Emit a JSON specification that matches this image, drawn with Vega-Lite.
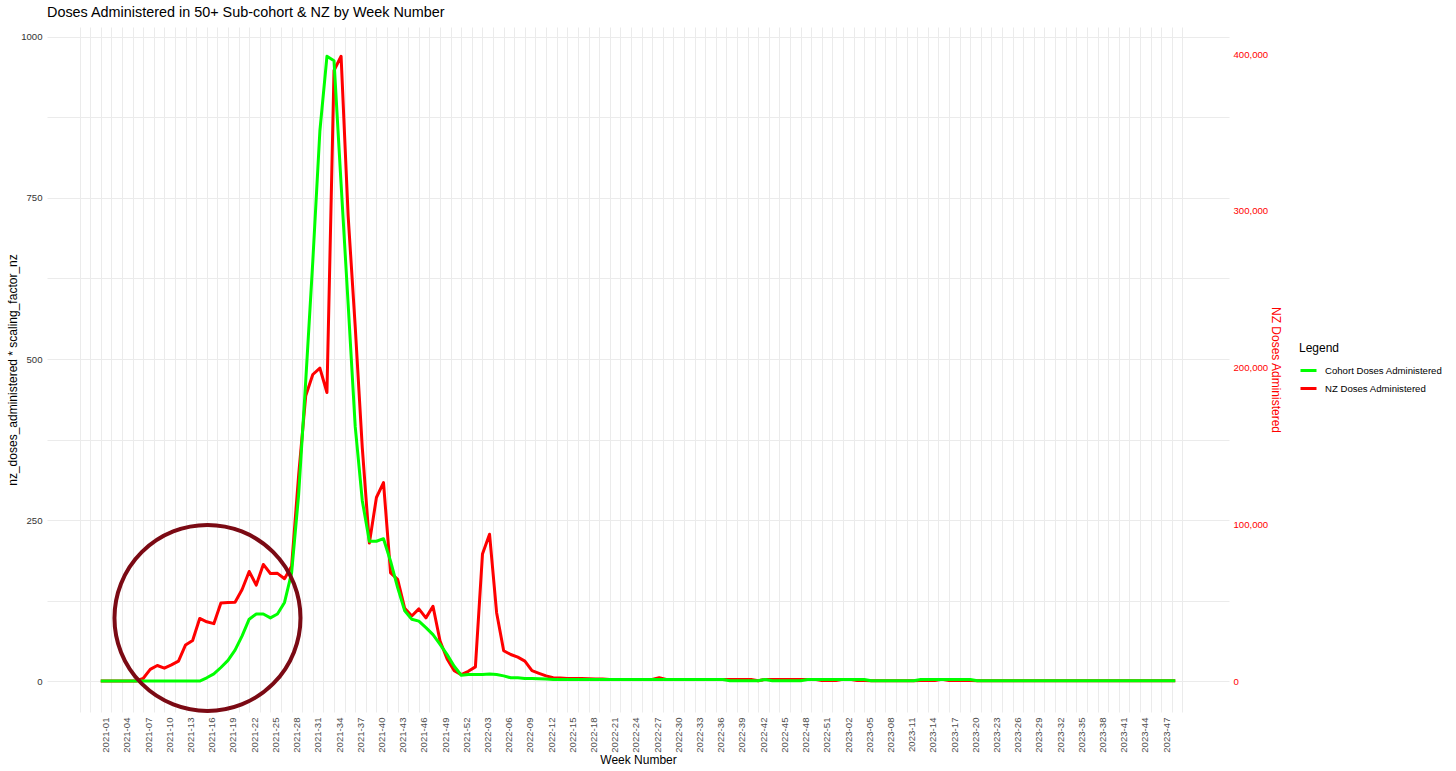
{
  "$schema": "https://vega.github.io/schema/vega-lite/v6.json",
  "width": 1182,
  "height": 685,
  "padding": {"left": 6, "top": 4, "right": 5, "bottom": 5},
  "background": "white",
  "title": {"text": "Doses Administered in 50+ Sub-cohort & NZ by Week Number", "anchor": "start", "frame": "group", "font": "Liberation Sans", "fontSize": 14.4, "fontWeight": "normal", "color": "#000000", "offset": 7},
  "config": {"view": {"stroke": null}, "font": "Liberation Sans"},
  "data": {"values": [
    {"week":"2021-01","idx":0,"cohort":0,"nz":0},
    {"week":"2021-02","idx":1,"cohort":0,"nz":0},
    {"week":"2021-03","idx":2,"cohort":0,"nz":0},
    {"week":"2021-04","idx":3,"cohort":0,"nz":0},
    {"week":"2021-05","idx":4,"cohort":0,"nz":0},
    {"week":"2021-06","idx":5,"cohort":0,"nz":0},
    {"week":"2021-07","idx":6,"cohort":0,"nz":1600},
    {"week":"2021-08","idx":7,"cohort":0,"nz":7400},
    {"week":"2021-09","idx":8,"cohort":0,"nz":9900},
    {"week":"2021-10","idx":9,"cohort":0,"nz":8200},
    {"week":"2021-11","idx":10,"cohort":0,"nz":10300},
    {"week":"2021-12","idx":11,"cohort":0,"nz":12700},
    {"week":"2021-13","idx":12,"cohort":0,"nz":23000},
    {"week":"2021-14","idx":13,"cohort":0,"nz":25900},
    {"week":"2021-15","idx":14,"cohort":0,"nz":39900},
    {"week":"2021-16","idx":15,"cohort":5,"nz":37800},
    {"week":"2021-17","idx":16,"cohort":11,"nz":36600},
    {"week":"2021-18","idx":17,"cohort":21,"nz":49800},
    {"week":"2021-19","idx":18,"cohort":32,"nz":50100},
    {"week":"2021-20","idx":19,"cohort":48,"nz":50200},
    {"week":"2021-21","idx":20,"cohort":70,"nz":58400},
    {"week":"2021-22","idx":21,"cohort":96,"nz":69900},
    {"week":"2021-23","idx":22,"cohort":104,"nz":61200},
    {"week":"2021-24","idx":23,"cohort":104,"nz":74400},
    {"week":"2021-25","idx":24,"cohort":98,"nz":68600},
    {"week":"2021-26","idx":25,"cohort":104,"nz":68700},
    {"week":"2021-27","idx":26,"cohort":122,"nz":65300},
    {"week":"2021-28","idx":27,"cohort":168,"nz":73200},
    {"week":"2021-29","idx":28,"cohort":290,"nz":131500},
    {"week":"2021-30","idx":29,"cohort":466,"nz":182100},
    {"week":"2021-31","idx":30,"cohort":652,"nz":195600},
    {"week":"2021-32","idx":31,"cohort":854,"nz":199700},
    {"week":"2021-33","idx":32,"cohort":970,"nz":184100},
    {"week":"2021-34","idx":33,"cohort":963,"nz":389600},
    {"week":"2021-35","idx":34,"cohort":772,"nz":398700},
    {"week":"2021-36","idx":35,"cohort":585,"nz":296700},
    {"week":"2021-37","idx":36,"cohort":395,"nz":226100},
    {"week":"2021-38","idx":37,"cohort":280,"nz":148800},
    {"week":"2021-39","idx":38,"cohort":217,"nz":88000},
    {"week":"2021-40","idx":39,"cohort":217,"nz":117100},
    {"week":"2021-41","idx":40,"cohort":221,"nz":126600},
    {"week":"2021-42","idx":41,"cohort":186,"nz":69000},
    {"week":"2021-43","idx":42,"cohort":145,"nz":64900},
    {"week":"2021-44","idx":43,"cohort":109,"nz":46400},
    {"week":"2021-45","idx":44,"cohort":96,"nz":41500},
    {"week":"2021-46","idx":45,"cohort":93,"nz":46000},
    {"week":"2021-47","idx":46,"cohort":83,"nz":40300},
    {"week":"2021-48","idx":47,"cohort":72,"nz":47700},
    {"week":"2021-49","idx":48,"cohort":57,"nz":25500},
    {"week":"2021-50","idx":49,"cohort":41,"nz":14000},
    {"week":"2021-51","idx":50,"cohort":23,"nz":6600},
    {"week":"2021-52","idx":51,"cohort":9,"nz":4100},
    {"week":"2022-01","idx":52,"cohort":10,"nz":6200},
    {"week":"2022-02","idx":53,"cohort":10,"nz":9000},
    {"week":"2022-03","idx":54,"cohort":10,"nz":81000},
    {"week":"2022-04","idx":55,"cohort":11,"nz":93700},
    {"week":"2022-05","idx":56,"cohort":10,"nz":43600},
    {"week":"2022-06","idx":57,"cohort":8,"nz":19300},
    {"week":"2022-07","idx":58,"cohort":5,"nz":16900},
    {"week":"2022-08","idx":59,"cohort":5,"nz":15200},
    {"week":"2022-09","idx":60,"cohort":4,"nz":12700},
    {"week":"2022-10","idx":61,"cohort":4,"nz":6600},
    {"week":"2022-11","idx":62,"cohort":3.5,"nz":4900},
    {"week":"2022-12","idx":63,"cohort":3,"nz":3300},
    {"week":"2022-13","idx":64,"cohort":2.5,"nz":2100},
    {"week":"2022-14","idx":65,"cohort":2.5,"nz":1850},
    {"week":"2022-15","idx":66,"cohort":2.5,"nz":1650},
    {"week":"2022-16","idx":67,"cohort":2.5,"nz":1650},
    {"week":"2022-17","idx":68,"cohort":2.5,"nz":1650},
    {"week":"2022-18","idx":69,"cohort":2.5,"nz":1450},
    {"week":"2022-19","idx":70,"cohort":2.5,"nz":1250},
    {"week":"2022-20","idx":71,"cohort":2.5,"nz":1250},
    {"week":"2022-21","idx":72,"cohort":2.5,"nz":1030},
    {"week":"2022-22","idx":73,"cohort":2.5,"nz":1030},
    {"week":"2022-23","idx":74,"cohort":2.5,"nz":1030},
    {"week":"2022-24","idx":75,"cohort":2.5,"nz":1030},
    {"week":"2022-25","idx":76,"cohort":2.5,"nz":1030},
    {"week":"2022-26","idx":77,"cohort":2.5,"nz":1030},
    {"week":"2022-27","idx":78,"cohort":2.5,"nz":1030},
    {"week":"2022-28","idx":79,"cohort":2.5,"nz":2050},
    {"week":"2022-29","idx":80,"cohort":2.5,"nz":1030},
    {"week":"2022-30","idx":81,"cohort":2.5,"nz":1030},
    {"week":"2022-31","idx":82,"cohort":2.5,"nz":1030},
    {"week":"2022-32","idx":83,"cohort":2.5,"nz":1030},
    {"week":"2022-33","idx":84,"cohort":2.5,"nz":1030},
    {"week":"2022-34","idx":85,"cohort":2.5,"nz":1030},
    {"week":"2022-35","idx":86,"cohort":2.5,"nz":1030},
    {"week":"2022-36","idx":87,"cohort":2.5,"nz":1030},
    {"week":"2022-37","idx":88,"cohort":2.5,"nz":1030},
    {"week":"2022-38","idx":89,"cohort":0.5,"nz":1030},
    {"week":"2022-39","idx":90,"cohort":0.5,"nz":1030},
    {"week":"2022-40","idx":91,"cohort":0.5,"nz":1030},
    {"week":"2022-41","idx":92,"cohort":0.5,"nz":1030},
    {"week":"2022-42","idx":93,"cohort":0.5,"nz":205},
    {"week":"2022-43","idx":94,"cohort":2.5,"nz":1030},
    {"week":"2022-44","idx":95,"cohort":0.5,"nz":1030},
    {"week":"2022-45","idx":96,"cohort":0.5,"nz":1030},
    {"week":"2022-46","idx":97,"cohort":0.5,"nz":1030},
    {"week":"2022-47","idx":98,"cohort":0.5,"nz":1030},
    {"week":"2022-48","idx":99,"cohort":0.5,"nz":1030},
    {"week":"2022-49","idx":100,"cohort":2.5,"nz":1030},
    {"week":"2022-50","idx":101,"cohort":2.5,"nz":1030},
    {"week":"2022-51","idx":102,"cohort":2.5,"nz":330},
    {"week":"2022-52","idx":103,"cohort":2.5,"nz":330},
    {"week":"2023-01","idx":104,"cohort":2.5,"nz":330},
    {"week":"2023-02","idx":105,"cohort":2.5,"nz":1030},
    {"week":"2023-03","idx":106,"cohort":2.5,"nz":1030},
    {"week":"2023-04","idx":107,"cohort":2.5,"nz":330},
    {"week":"2023-05","idx":108,"cohort":2.5,"nz":330},
    {"week":"2023-06","idx":109,"cohort":0.5,"nz":205},
    {"week":"2023-07","idx":110,"cohort":0.5,"nz":205},
    {"week":"2023-08","idx":111,"cohort":0.5,"nz":205},
    {"week":"2023-09","idx":112,"cohort":0.5,"nz":205},
    {"week":"2023-10","idx":113,"cohort":0.5,"nz":205},
    {"week":"2023-11","idx":114,"cohort":0.5,"nz":205},
    {"week":"2023-12","idx":115,"cohort":0.5,"nz":205},
    {"week":"2023-13","idx":116,"cohort":2.5,"nz":330},
    {"week":"2023-14","idx":117,"cohort":2.5,"nz":330},
    {"week":"2023-15","idx":118,"cohort":2.5,"nz":330},
    {"week":"2023-16","idx":119,"cohort":2.5,"nz":1030},
    {"week":"2023-17","idx":120,"cohort":2.5,"nz":330},
    {"week":"2023-18","idx":121,"cohort":2.5,"nz":330},
    {"week":"2023-19","idx":122,"cohort":2.5,"nz":330},
    {"week":"2023-20","idx":123,"cohort":2.5,"nz":330},
    {"week":"2023-21","idx":124,"cohort":0.5,"nz":205},
    {"week":"2023-22","idx":125,"cohort":0.5,"nz":205},
    {"week":"2023-23","idx":126,"cohort":0.5,"nz":205},
    {"week":"2023-24","idx":127,"cohort":0.5,"nz":205},
    {"week":"2023-25","idx":128,"cohort":0.5,"nz":205},
    {"week":"2023-26","idx":129,"cohort":0.5,"nz":205},
    {"week":"2023-27","idx":130,"cohort":0.5,"nz":205},
    {"week":"2023-28","idx":131,"cohort":0.5,"nz":205},
    {"week":"2023-29","idx":132,"cohort":0.5,"nz":205},
    {"week":"2023-30","idx":133,"cohort":0.5,"nz":205},
    {"week":"2023-31","idx":134,"cohort":0.5,"nz":205},
    {"week":"2023-32","idx":135,"cohort":0.5,"nz":205},
    {"week":"2023-33","idx":136,"cohort":0.5,"nz":205},
    {"week":"2023-34","idx":137,"cohort":0.5,"nz":205},
    {"week":"2023-35","idx":138,"cohort":0.5,"nz":205},
    {"week":"2023-36","idx":139,"cohort":0.5,"nz":205},
    {"week":"2023-37","idx":140,"cohort":0.5,"nz":205},
    {"week":"2023-38","idx":141,"cohort":0.5,"nz":205},
    {"week":"2023-39","idx":142,"cohort":0.5,"nz":205},
    {"week":"2023-40","idx":143,"cohort":0.5,"nz":205},
    {"week":"2023-41","idx":144,"cohort":0.5,"nz":205},
    {"week":"2023-42","idx":145,"cohort":0.5,"nz":205},
    {"week":"2023-43","idx":146,"cohort":0.5,"nz":205},
    {"week":"2023-44","idx":147,"cohort":0.5,"nz":205},
    {"week":"2023-45","idx":148,"cohort":0.5,"nz":205},
    {"week":"2023-46","idx":149,"cohort":0.5,"nz":205},
    {"week":"2023-47","idx":150,"cohort":0.5,"nz":205},
    {"week":"2023-48","idx":151,"cohort":0.5,"nz":205},
    {"week":"2023-49","idx":152,"cohort":0.5,"nz":205}
  ]},
  "layer": [
    {
      "mark": {"type": "line", "strokeWidth": 3, "strokeJoin": "round", "strokeCap": "butt"},
      "encoding": {
        "x": {"field": "idx", "type": "quantitative", "scale": {"domain": [-7.6, 159.6], "nice": false, "zero": false},
          "axis": {"orient": "top", "values": [-3,-1.5,1.5,4.5,7.5,10.5,13.5,16.5,19.5,22.5,25.5,28.5,31.5,34.5,37.5,40.5,43.5,46.5,49.5,52.5,55.5,58.5,61.5,64.5,67.5,70.5,73.5,76.5,79.5,82.5,85.5,88.5,91.5,94.5,97.5,100.5,103.5,106.5,109.5,112.5,115.5,118.5,121.5,124.5,127.5,130.5,133.5,136.5,139.5,142.5,145.5,148.5,151.5,153],
            "grid": true, "gridColor": "#EBEBEB", "gridWidth": 1, "labels": false, "ticks": false, "domain": false, "title": null}},
        "y": {"field": "nz", "type": "quantitative", "scale": {"domain": [-19784, 417383], "nice": false, "zero": false},
          "axis": {"orient": "right", "values": [0, 100000, 200000, 300000, 400000], "format": ",.0f", "labelColor": "#FF0000", "labelFont": "Liberation Sans", "labelFontSize": 9.6, "labelPadding": 4, "ticks": false, "tickSize": 0, "domain": false, "grid": false,
            "title": "NZ Doses Administered", "titleColor": "#FF0000", "titleFont": "Liberation Sans", "titleFontSize": 12, "titleFontWeight": "normal", "titlePadding": 1}},
        "color": {"datum": "NZ Doses Administered", "type": "nominal",
          "scale": {"domain": ["Cohort Doses Administered", "NZ Doses Administered"], "range": ["#00FF00", "#FF0000"]},
          "legend": {"title": "Legend", "orient": "none", "legendX": 1252, "legendY": 316, "titleFont": "Liberation Sans", "titleFontSize": 12, "titleFontWeight": "normal", "titleColor": "#000000", "titlePadding": 6,
            "labelFont": "Liberation Sans", "labelFontSize": 9.6, "labelColor": "#000000", "labelOffset": 7, "symbolType": "stroke", "symbolSize": 256, "symbolStrokeWidth": 3, "rowPadding": 2}}
      }
    },
    {
      "layer": [
        {
          "mark": {"type": "line", "strokeWidth": 3, "strokeJoin": "round", "strokeCap": "butt"},
          "encoding": {
            "x": {"field": "idx", "type": "quantitative", "scale": {"domain": [-7.6, 159.6], "nice": false, "zero": false},
              "axis": {"orient": "bottom", "values": [0,3,6,9,12,15,18,21,24,27,30,33,36,39,42,45,48,51,54,57,60,63,66,69,72,75,78,81,84,87,90,93,96,99,102,105,108,111,114,117,120,123,126,129,132,135,138,141,144,147,150],
                "labelExpr": "(datum.value < 52 ? '2021-' : datum.value < 104 ? '2022-' : '2023-') + ((datum.value % 52) + 1 < 10 ? '0' : '') + ((datum.value % 52) + 1)",
                "labelAngle": 270, "labelAlign": "right", "labelBaseline": "top", "labelPadding": 5, "labelOverlap": false, "labelFlush": false,
                "labelFont": "Liberation Sans", "labelFontSize": 9.6, "labelColor": "#4D4D4D",
                "grid": true, "gridColor": "#EBEBEB", "gridWidth": 1, "ticks": false, "tickSize": 0, "domain": false,
                "title": "Week Number", "titleFont": "Liberation Sans", "titleFontSize": 12, "titleFontWeight": "normal", "titleColor": "#000000", "titlePadding": 2}},
            "y": {"field": "cohort", "type": "quantitative", "scale": {"domain": [-48.1, 1015.5], "nice": false, "zero": false},
              "axis": {"orient": "left", "values": [0, 250, 500, 750, 1000], "format": ".0f", "labelFont": "Liberation Sans", "labelFontSize": 9.6, "labelColor": "#333333", "labelPadding": 5,
                "grid": true, "gridColor": "#EBEBEB", "gridWidth": 1, "ticks": false, "tickSize": 0, "domain": false,
                "title": "nz_doses_administered * scaling_factor_nz", "titleFont": "Liberation Sans", "titleFontSize": 12, "titleFontWeight": "normal", "titleColor": "#000000", "titlePadding": 1}},
            "color": {"datum": "Cohort Doses Administered", "type": "nominal",
              "scale": {"domain": ["Cohort Doses Administered", "NZ Doses Administered"], "range": ["#00FF00", "#FF0000"]}}
          }
        },
        {
          "data": {"values": [{"idx": 15.1, "level": 98}]},
          "mark": {"type": "point", "shape": "circle", "filled": false, "size": 34600, "stroke": "#7B0A14", "strokeWidth": 4, "opacity": 1},
          "encoding": {
            "x": {"field": "idx", "type": "quantitative", "axis": null},
            "y": {"field": "level", "type": "quantitative",
              "axis": {"orient": "left", "values": [125, 375, 625, 875], "grid": true, "gridColor": "#EBEBEB", "gridWidth": 1, "labels": false, "ticks": false, "domain": false, "title": null}}
          }
        }
      ],
      "resolve": {"axis": {"x": "independent", "y": "independent"}}
    }
  ],
  "resolve": {"scale": {"y": "independent"}}
}
